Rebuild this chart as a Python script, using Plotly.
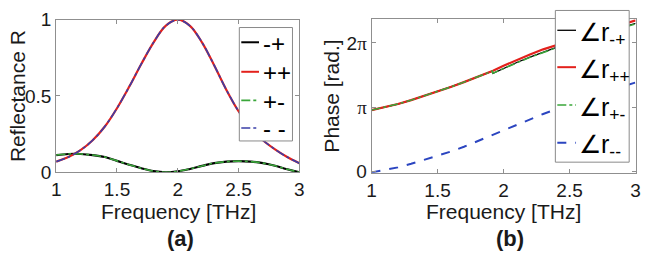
import numpy as np
import plotly.graph_objects as go

W, H = 646, 270

freq = [1.0, 1.1, 1.2, 1.3, 1.4, 1.5, 1.6, 1.7, 1.8, 1.9, 2.0,
        2.1, 2.2, 2.3, 2.4, 2.5, 2.6, 2.7, 2.8, 2.9, 3.0]

# (a) reflectance
R_pp = [0.07, 0.10, 0.145, 0.21, 0.30, 0.42, 0.56, 0.71, 0.85, 0.96, 1.00,
        0.96, 0.85, 0.70, 0.54, 0.40, 0.29, 0.21, 0.15, 0.10, 0.06]
R_mm = R_pp
R_mp = [0.113, 0.12, 0.12, 0.113, 0.10, 0.075, 0.05, 0.027, 0.008, 0.0, 0.006,
        0.022, 0.042, 0.06, 0.07, 0.073, 0.07, 0.06, 0.043, 0.02, 0.0]
R_pm = R_mp

# (b) phase, in units of pi
freq_b = [1.0, 1.1, 1.2, 1.3, 1.4, 1.5, 1.6, 1.7, 1.8, 1.9, 1.915, 1.92, 2.0,
          2.1, 2.2, 2.3, 2.4, 2.5, 2.6, 2.7, 2.8, 2.9, 3.0]
ph_pp = [0.955, 1.00, 1.05, 1.11, 1.175, 1.245, 1.315, 1.39, 1.47, 1.55, 1.562, 1.567, 1.645,
         1.735, 1.82, 1.90, 1.97, 2.03, 2.09, 2.15, 2.22, 2.285, 2.35]
ph_mp = [0.955, 1.00, 1.05, 1.11, 1.175, 1.245, 1.315, 1.39, 1.47, 1.55, 1.562, 1.525, 1.605,
         1.695, 1.78, 1.86, 1.93, 1.99, 2.05, 2.11, 2.175, 2.24, 2.305]
ph_pm = [0.955, 1.00, 1.05, 1.11, 1.175, 1.245, 1.315, 1.39, 1.47, 1.55, 1.562, 1.53, 1.605,
         1.69, 1.775, 1.855, 1.925, 1.985, 2.045, 2.105, 2.17, 2.235, 2.295]
ph_mm = [-0.015, 0.02, 0.065, 0.12, 0.18, 0.245, 0.31, 0.385, 0.47, 0.56, 0.57, 0.575, 0.645,
         0.73, 0.815, 0.895, 0.97, 1.045, 1.115, 1.185, 1.255, 1.32, 1.385]

xticks = [1, 1.5, 2, 2.5, 3]
xtick_text = ["1", "1.5", "2", "2.5", "3"]
ya_ticks = [0, 0.5, 1]
ya_text = ["0", "0.5", "1"]
yb_ticks_pi = [0, 1, 2]
PI_SPAN = "<span style=\"font-family:'Liberation Serif', serif\">π</span>"
yb_text = ["0", PI_SPAN, "2" + PI_SPAN]

names_a = ["-+", "++", "+-", "- -"]
names_b = ["∠r<sub>-+</sub>", "∠r<sub>++</sub>", "∠r<sub>+-</sub>", "∠r<sub>--</sub>"]

to_rad = lambda arr: list(np.array(arr) * np.pi)

RED = "#e3211c"
BLACK = "#000000"
GREEN = "#3aa63a"
BLUE = "#3a3fa8"
BLUE_B = "#2b45c0"
FONT = "Liberation Sans, Arial, sans-serif"
AXC = "#8f8f8f"
TXT = "#1a1a1a"

styles_a = [dict(color=BLACK, width=2.2), dict(color=RED, width=2.2),
            dict(color=GREEN, width=1.6, dash="dashdot"), dict(color=BLUE, width=1.6, dash="dashdot")]
styles_b = [dict(color=BLACK, width=1.3), dict(color=RED, width=2.2),
            dict(color=GREEN, width=1.5, dash="dashdot"), dict(color=BLUE_B, width=2.0, dash="dash")]

fig = go.Figure()

for name, ys, st in zip(names_a, [R_mp, R_pp, R_pm, R_mm], styles_a):
    fig.add_trace(go.Scatter(x=freq, y=ys, mode="lines", name=name,
                             line=dict(shape="spline", **st), xaxis="x", yaxis="y", showlegend=False))

for name, ys, st in zip(names_b, [ph_mp, ph_pp, ph_pm, ph_mm], styles_b):
    fig.add_trace(go.Scatter(x=freq_b, y=to_rad(ys), mode="lines", name=name,
                             line=st, xaxis="x2", yaxis="y2", showlegend=False))


def px_x(p):
    return p / W


def px_y(p):
    return 1 - p / H


axis_common = dict(showline=True, linecolor=AXC, linewidth=1, mirror="ticks", ticks="inside",
                   ticklen=4, tickcolor=AXC, showgrid=False, zeroline=False,
                   tickfont=dict(family=FONT, size=19, color=TXT))

fig.update_layout(
    width=W, height=H, margin=dict(l=0, r=0, t=0, b=0),
    paper_bgcolor="white", plot_bgcolor="white",
    font=dict(family=FONT, color=TXT),
    showlegend=False,
    xaxis=dict(domain=[px_x(52), px_x(299)], range=[1, 3], tickvals=xticks, ticktext=xtick_text,
               anchor="y", **axis_common),
    yaxis=dict(domain=[px_y(176), px_y(10.5)], range=[0, 1], tickvals=ya_ticks, ticktext=ya_text,
               anchor="x", **axis_common),
    xaxis2=dict(domain=[px_x(372.3), px_x(640.5)], range=[1, 3], tickvals=xticks, ticktext=xtick_text,
                anchor="y2", **axis_common),
    yaxis2=dict(domain=[px_y(176.5), px_y(10)], range=[-0.06, 7.44],
                tickvals=to_rad(yb_ticks_pi), ticktext=yb_text, anchor="x2", **axis_common),
)

# manual legends (box, line samples, labels)
legends = [
    dict(box=(238, 19, 292, 142), rows=[35, 67, 98, 128], line=(240, 258), tx=260,
         names=names_a, styles=styles_a, size=24, dy=1),
    dict(box=(559, 0.5, 634, 165), rows=[22, 62, 103, 144], line=(561, 580), tx=581,
         names=names_b, styles=styles_b, size=25, dy=4),
]
for lg in legends:
    x0, y0, x1, y1 = lg["box"]
    fig.add_shape(type="rect", xref="paper", yref="paper", x0=px_x(x0), x1=px_x(x1),
                  y0=px_y(y1), y1=px_y(y0), fillcolor="white",
                  line=dict(color="#8a8a8a", width=1), layer="above")
    for ry, nm, st in zip(lg["rows"], lg["names"], lg["styles"]):
        st2 = dict(st)
        st2["width"] = min(st2.get("width", 1.5), 2.0)
        fig.add_shape(type="line", xref="paper", yref="paper", x0=px_x(lg["line"][0]), x1=px_x(lg["line"][1]),
                      y0=px_y(ry), y1=px_y(ry), line=st2, layer="above")
        fig.add_annotation(text=nm, x=px_x(lg["tx"]), y=px_y(ry + lg["dy"]), xref="paper", yref="paper",
                           xanchor="left", yanchor="middle", showarrow=False,
                           font=dict(family=FONT, size=lg["size"], color=BLACK))

annos = [
    dict(text="Frequency [THz]", x=176.5, y=218, size=21, angle=0),
    dict(text="Frequency [THz]", x=506, y=218, size=21, angle=0),
    dict(text="Reflectance R", x=12.5, y=93, size=21, angle=-90),
    dict(text="Phase [rad.]", x=332, y=93, size=21, angle=-90),
    dict(text="<b>(a)</b>", x=178, y=248, size=22, angle=0),
    dict(text="<b>(b)</b>", x=513, y=248, size=22, angle=0),
]
for a in annos:
    fig.add_annotation(text=a["text"], x=px_x(a["x"]), y=px_y(a["y"]), xref="paper", yref="paper",
                       xanchor="center", yanchor="middle", showarrow=False, textangle=a["angle"],
                       font=dict(family=FONT, size=a["size"], color=TXT))

fig.write_html("out.html")
